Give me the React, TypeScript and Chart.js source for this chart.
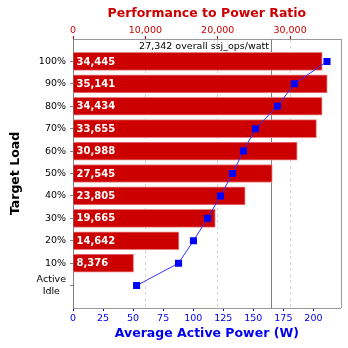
import { useEffect, useRef } from 'react';
import { Chart, registerables } from 'chart.js';

Chart.register(...registerables);

const targetLoads: (string | string[])[] = ['100%', '90%', '80%', '70%', '60%', '50%', '40%', '30%', '20%', '10%', ['Active', 'Idle  ']];
const perfToPower: (number | null)[] = [34445, 35141, 34434, 33655, 30988, 27545, 23805, 19665, 14642, 8376, null];
const avgPower: number[] = [211.3, 184.2, 170.0, 151.8, 141.8, 132.7, 122.7, 111.9, 100.2, 87.8, 52.9];
const overallRatio = 27342;
const perfTicks = [0, 10000, 20000, 30000];
const powerTicks = [0, 25, 50, 75, 100, 125, 150, 175, 200];
const perfAxisMax = 37000;
const powerAxisMax = 222.7;

const FONT = '"DejaVu Sans", Verdana, sans-serif';
const RED = '#cc0000';
const BLUE = '#0000ee';

const fmt = (v: number) => Math.round(v).toLocaleString('en-US');

const overlay = {
  id: 'overlay',
  beforeDatasetsDraw(chart: any) {
    const { ctx, chartArea: a, scales } = chart;
    const x = Math.round(scales.xPerf.getPixelForValue(overallRatio)) + 0.5;
    ctx.save();
    ctx.strokeStyle = '#808080';
    ctx.lineWidth = 1;
    ctx.beginPath();
    ctx.moveTo(x, a.top);
    ctx.lineTo(x, a.bottom);
    ctx.stroke();
    ctx.fillStyle = '#000';
    ctx.font = `9.5px ${FONT}`;
    ctx.textAlign = 'right';
    ctx.textBaseline = 'middle';
    ctx.fillText(`${fmt(overallRatio)} overall ssj_ops/watt`, x - 2.5, a.top + 8);
    ctx.restore();
  },
  afterDatasetDraw(chart: any, args: any) {
    if (args.index !== 1) return;
    const { ctx } = chart;
    const meta = chart.getDatasetMeta(1);
    ctx.save();
    ctx.fillStyle = '#ffffff';
    ctx.font = `bold 10px ${FONT}`;
    ctx.textAlign = 'left';
    ctx.textBaseline = 'middle';
    meta.data.forEach((el: any, i: number) => {
      const v = chart.data.datasets[1].data[i];
      if (v == null) return;
      ctx.fillText(fmt(v), el.base + 3, el.y + 0.5);
    });
    ctx.restore();
  },
  afterDraw(chart: any) {
    const { ctx, chartArea: a } = chart;
    ctx.save();
    ctx.strokeStyle = '#999999';
    ctx.lineWidth = 1;
    ctx.beginPath();
    ctx.moveTo(Math.round(a.right) + 0.5, a.top);
    ctx.lineTo(Math.round(a.right) + 0.5, a.bottom);
    ctx.stroke();
    ctx.restore();
  },
};

export default function App() {
  const ref = useRef<HTMLCanvasElement>(null);
  useEffect(() => {
    document.body.style.margin = '0';
    const labels = ['', ...targetLoads, ''];
    const n = labels.length;
    const chart = new Chart(ref.current!, {
      type: 'bar',
      data: {
        labels,
        datasets: [
          {
            type: 'line',
            label: 'Average Active Power',
            data: [null, ...avgPower, null],
            indexAxis: 'y',
            xAxisID: 'xPower',
            yAxisID: 'y',
            borderColor: '#3333ff',
            borderWidth: 1,
            pointStyle: 'rect',
            pointRadius: 5,
            pointBackgroundColor: '#0000ff',
            pointBorderWidth: 0,
            order: 1,
          } as any,
          {
            type: 'bar',
            label: 'Performance to Power Ratio',
            data: [null, ...perfToPower, null],
            xAxisID: 'xPerf',
            yAxisID: 'y',
            backgroundColor: RED,
            borderColor: '#e88080',
            borderWidth: 1,
            borderSkipped: 'start',
            barThickness: 18,
            order: 2,
          } as any,
        ],
      },
      options: {
        indexAxis: 'y',
        animation: false,
        responsive: false,
        maintainAspectRatio: false,
        layout: { padding: { top: 0, left: 0, bottom: 0, right: 7.3 } },
        plugins: { legend: { display: false }, tooltip: { enabled: false } },
        scales: {
          xPerf: {
            type: 'linear',
            position: 'top',
            min: 0,
            max: perfAxisMax,
            afterFit: (s: any) => { s.height = 39; },
            afterBuildTicks: (s: any) => { s.ticks = perfTicks.map((value) => ({ value })); },
            ticks: {
              color: RED,
              font: { family: FONT, size: 9.5 },
              padding: 0,
              maxRotation: 0,
              autoSkip: false,
              callback: (v: any) => fmt(Number(v)),
            },
            grid: {
              color: (c: any) => (c.tick && c.tick.value === 0 ? 'rgba(0,0,0,0)' : '#d6d6d6'),
              tickColor: RED,
              tickLength: 3,
              drawOnChartArea: true,
            },
            border: { display: true, color: '#999999', dash: [3, 3] },
            title: {
              display: true,
              text: 'Performance to Power Ratio',
              color: RED,
              font: { family: FONT, size: 12.5, weight: 'bold' },
              padding: { top: 6.5, bottom: 0 },
            },
          },
          xPower: {
            type: 'linear',
            position: 'bottom',
            min: 0,
            max: powerAxisMax,
            afterFit: (s: any) => { s.height = 40; },
            afterBuildTicks: (s: any) => { s.ticks = powerTicks.map((value) => ({ value })); },
            ticks: {
              color: BLUE,
              font: { family: FONT, size: 9.5 },
              padding: 2,
              maxRotation: 0,
              autoSkip: false,
            },
            grid: { drawOnChartArea: false, tickColor: BLUE, tickLength: 3 },
            border: { display: true, color: '#999999' },
            title: {
              display: true,
              text: 'Average Active Power (W)',
              color: BLUE,
              font: { family: FONT, size: 12.5, weight: 'bold' },
              padding: { top: 0, bottom: 6.5 },
            },
          },
          y: {
            type: 'category',
            position: 'left',
            offset: false,
            afterFit: (s: any) => { s.width = 73; },
            ticks: {
              autoSkip: false,
              color: '#000000',
              font: { family: FONT, size: 9.5 },
              padding: 4,
            },
            grid: {
              offset: false,
              drawOnChartArea: false,
              tickLength: 3,
              tickColor: (c: any) => (c.index === 0 || c.index === n - 1 ? 'rgba(0,0,0,0)' : '#808080'),
            },
            border: { display: true, color: '#808080' },
            title: {
              display: true,
              text: 'Target Load',
              color: '#000000',
              font: { family: FONT, size: 12.5, weight: 'bold' },
              padding: { top: 8.5, bottom: 0 },
            },
          },
        },
      } as any,
      plugins: [overlay],
    });
    return () => chart.destroy();
  }, []);
  return <canvas ref={ref} width={348} height={348} style={{ display: 'block' }} />;
}
